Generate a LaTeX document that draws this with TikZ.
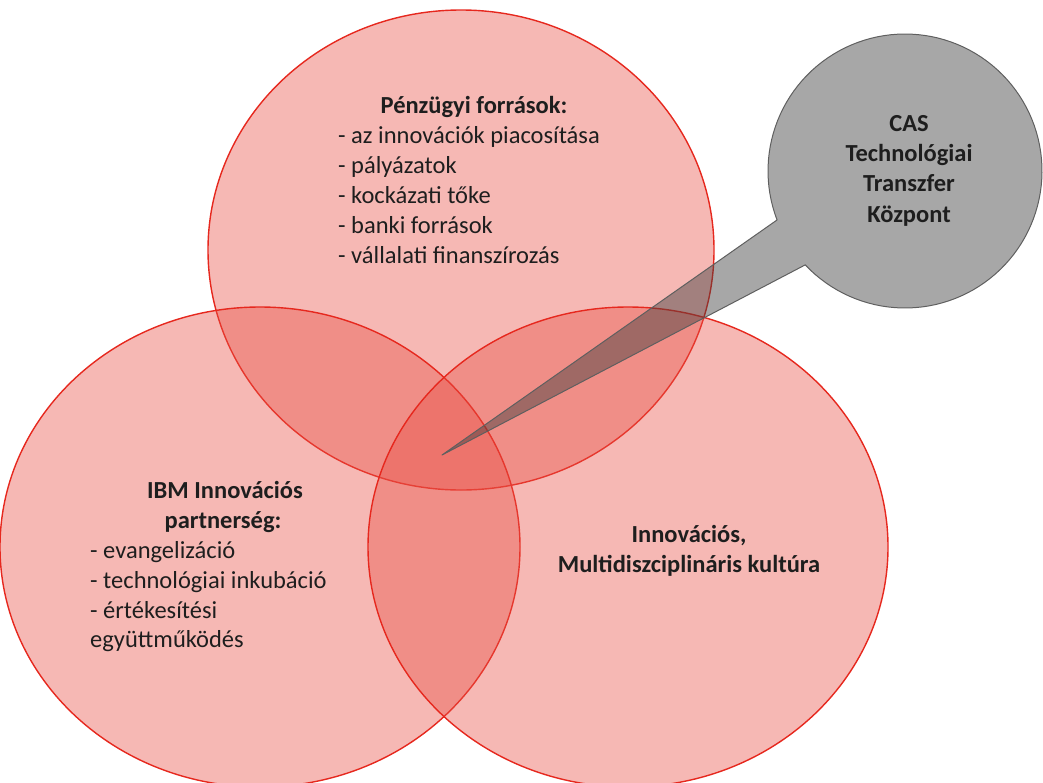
\documentclass[tikz,border=0pt]{standalone}
\usepackage{fontspec}
\setmainfont{Carlito}
\definecolor{vennfill}{RGB}{232,78,68}
\definecolor{vennline}{RGB}{230,40,30}
\definecolor{calloutfill}{RGB}{60,60,60}
\definecolor{calloutline}{RGB}{95,95,95}
\definecolor{txtcol}{RGB}{30,30,30}
\tikzset{
  vennset/.style={fill=vennfill, fill opacity=0.4, draw=vennline, line width=1.4pt},
  calloutshape/.style={fill=calloutfill, fill opacity=0.45, draw=calloutline, line width=1pt, line join=round},
  txt/.style={font=\fontsize{24.5}{30}\selectfont, text=txtcol, inner sep=0pt, anchor=base west},
  ttl/.style={font=\fontsize{24.5}{30}\selectfont\bfseries, text=txtcol, inner sep=0pt, anchor=base},
}
\begin{document}
\begin{tikzpicture}[x=1pt,y=-1pt]
\useasboundingbox (0,0) rectangle (1043,782);
% three sets
\path[vennset] (461,250) ellipse [x radius=253, y radius=240];
\path[vennset] (260,547) ellipse [x radius=260, y radius=240];
\path[vennset] (628,547) ellipse [x radius=260, y radius=240];
% callout
\coordinate (cA) at (777,220);
\coordinate (cT) at (442,455);
\coordinate (cB) at (805,265);
\path[calloutshape] (cA) -- (cT) -- (cB)
  -- plot[domain=136.8:-200.95, samples=120] ({905+137*cos(\x)}, {171+137*sin(\x)}) -- cycle;
% top set text
\node[ttl] (t0) at (474,113) {Pénzügyi források:};
\node[txt] (t1) at (338,143) {- az innovációk piacosítása};
\node[txt] (t2) at (338,173) {- pályázatok};
\node[txt] (t3) at (338,203) {- kockázati tőke};
\node[txt] (t4) at (338,233) {- banki források};
\node[txt] (t5) at (338,263) {- vállalati finanszírozás};
% left set text
\node[ttl] (l0) at (225,498) {IBM Innovációs};
\node[ttl] (l1) at (223,528) {partnerség:};
\node[txt] (l2) at (90,558) {- evangelizáció};
\node[txt] (l3) at (90,588) {- technológiai inkubáció};
\node[txt] (l4) at (90,618) {- értékesítési};
\node[txt] (l5) at (90,647) {együttműködés};
% right set text
\node[ttl] (r0) at (689,542) {Innovációs,};
\node[ttl] (r1) at (689,572) {Multidiszciplináris kultúra};
% callout text
\node[ttl] (c0) at (909,131) {CAS};
\node[ttl] (c1) at (909,161) {Technológiai};
\node[ttl] (c2) at (909,191) {Transzfer};
\node[ttl] (c3) at (909,222) {Központ};
\end{tikzpicture}
\end{document}
